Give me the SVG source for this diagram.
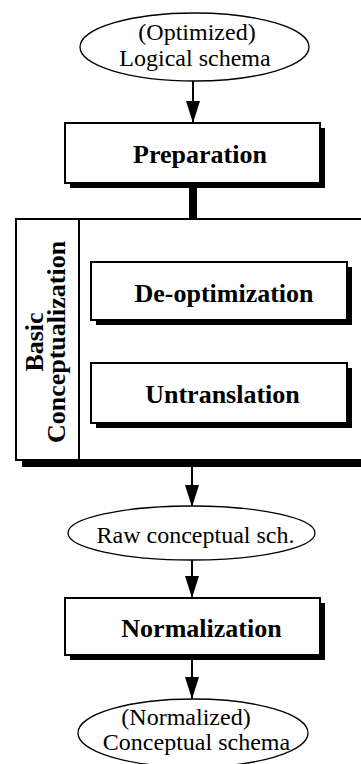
<svg xmlns="http://www.w3.org/2000/svg" width="361" height="764" viewBox="0 0 361 764">
<style>
.bg{fill:#ffffff}
.ell{fill:#ffffff;stroke:#000;stroke-width:1.3}
.box{fill:#ffffff;stroke:#000;stroke-width:2}
.sh{fill:#000}
.t{font-family:"Liberation Serif","Times New Roman",serif;font-size:24px;fill:#000;text-anchor:middle}
.b{font-family:"Liberation Serif","Times New Roman",serif;font-size:26px;font-weight:bold;fill:#000;text-anchor:middle}
.ln{stroke:#000;stroke-width:2;fill:none}
</style>
<defs>
<marker id="ah" viewBox="0 0 22 14" refX="22" refY="7" markerWidth="22" markerHeight="14" markerUnits="userSpaceOnUse" orient="auto">
<path d="M0,0 L22,7 L0,14 Z" fill="#000"/>
</marker>
</defs>
<rect class="bg" x="0" y="0" width="361" height="764"/>

<g id="connectors">
<line class="ln" x1="193" y1="81" x2="193" y2="123" marker-end="url(#ah)"/>
<rect class="sh" x="189" y="186" width="8" height="34"/>
<line class="ln" x1="192" y1="467" x2="192" y2="507" marker-end="url(#ah)"/>
<line class="ln" x1="192" y1="560" x2="192" y2="598" marker-end="url(#ah)"/>
<line class="ln" x1="192" y1="659" x2="192" y2="699" marker-end="url(#ah)"/>
</g>

<g id="logical-schema">
<ellipse class="ell" cx="194.5" cy="47" rx="114.5" ry="34"/>
<text class="t" x="197" y="40">(Optimized)</text>
<text class="t" x="195" y="66">Logical schema</text>
</g>

<g id="preparation">
<rect class="sh" x="70" y="128" width="255" height="60"/>
<rect class="box" x="65" y="123" width="255" height="60"/>
<text class="b" x="200" y="163">Preparation</text>
</g>

<g id="basic-conceptualization">
<rect class="sh" x="22" y="225" width="345" height="242"/>
<rect class="box" x="16" y="219" width="350" height="241"/>
<line class="ln" x1="79" y1="219" x2="79" y2="460"/>
<text class="b" transform="translate(43,342) rotate(-90)" x="0" y="0">Basic</text>
<text class="b" transform="translate(65,342) rotate(-90)" x="0" y="0">Conceptualization</text>
</g>

<g id="de-optimization">
<rect class="sh" x="96" y="267" width="256" height="58"/>
<rect class="box" x="91" y="262" width="256" height="58"/>
<text class="b" x="224" y="302">De-optimization</text>
</g>

<g id="untranslation">
<rect class="sh" x="96" y="368" width="256" height="60"/>
<rect class="box" x="91" y="363" width="256" height="60"/>
<text class="b" x="222.5" y="403">Untranslation</text>
</g>

<g id="raw-conceptual">
<ellipse class="ell" cx="191.5" cy="533" rx="123.5" ry="27"/>
<text class="t" x="195.5" y="543">Raw conceptual sch.</text>
</g>

<g id="normalization">
<rect class="sh" x="70" y="603" width="255" height="57"/>
<rect class="box" x="65" y="598" width="255" height="57"/>
<text class="b" x="201.5" y="637">Normalization</text>
</g>

<g id="conceptual-schema">
<ellipse class="ell" cx="193" cy="733" rx="115" ry="34"/>
<text class="t" x="186" y="725">(Normalized)</text>
<text class="t" x="196.5" y="750">Conceptual schema</text>
</g>
</svg>
